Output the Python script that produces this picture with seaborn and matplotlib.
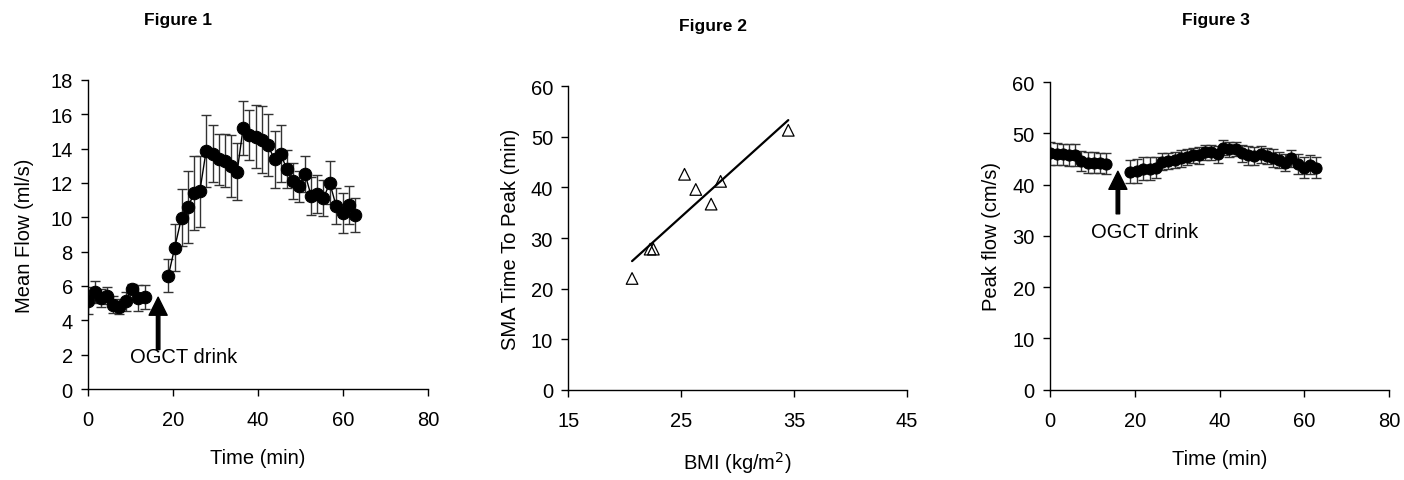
import numpy as np
import pandas as pd
import matplotlib
matplotlib.use('Agg')
import matplotlib.pyplot as plt
import seaborn as sns

sns.set_style('ticks')
plt.rcParams['font.family'] = ['Liberation Sans', 'DejaVu Sans']
plt.rcParams['text.color'] = 'black'
plt.rcParams['axes.labelcolor'] = 'black'

# time points (min), before and after the drink
t_pre = [0.1, 1.6, 3.0, 4.5, 5.9, 7.4, 8.9, 10.3, 11.8, 13.3]
t_post = [18.9, 20.4, 22.0, 23.5, 25.0, 26.3, 27.8, 29.4, 30.8, 32.2, 33.6,
          35.1, 36.5, 38.0, 39.6, 40.9, 42.3, 43.9, 45.3, 46.8, 48.2, 49.7,
          51.1, 52.5, 54.0, 55.4, 56.9, 58.4, 60.0, 61.4, 62.8]

# Figure 1 - mean flow (ml/s)
flow_pre = [5.15, 5.64, 5.3, 5.44, 4.9, 4.8, 5.1, 5.83, 5.3, 5.35]
flow_pre_err = [0.8, 0.65, 0.55, 0.5, 0.5, 0.45, 0.55, 0.3, 0.75, 0.7]
flow_post = [6.6, 8.23, 9.97, 10.6, 11.4, 11.5, 13.87, 13.7, 13.37, 13.3, 13.0,
             12.65, 15.2, 14.8, 14.7, 14.5, 14.2, 13.37, 13.7, 12.8, 12.1, 11.8,
             12.5, 11.25, 11.37, 11.1, 12.0, 10.65, 10.25, 10.7, 10.15]
flow_post_err = [0.95, 1.35, 1.65, 2.1, 2.15, 2.05, 2.1, 1.65, 1.5, 1.55, 1.8,
                 1.65, 1.55, 1.45, 1.85, 1.95, 1.8, 1.65, 1.65, 1.1, 1.05, 0.9,
                 1.05, 1.1, 1.1, 1.05, 1.25, 1.05, 1.15, 1.1, 1.0]

# Figure 2 - BMI vs SMA time to peak
bmi = [20.65, 22.25, 22.54, 25.3, 26.3, 27.66, 28.5, 34.5]
time_to_peak = [22.0, 27.8, 27.8, 42.6, 39.6, 36.7, 41.2, 51.3]

# Figure 3 - peak flow (cm/s)
peak_pre = [46.1, 46.0, 45.9, 45.8, 45.8, 44.6, 44.3, 44.3, 44.2, 44.1]
peak_pre_err = [2.3, 2.1, 2.1, 2.1, 2.1, 2.0, 2.1, 2.1, 2.0, 2.0]
peak_post = [42.5, 42.6, 43.1, 43.1, 43.3, 44.5, 44.6, 44.8, 45.1, 45.4, 45.7,
             45.7, 46.3, 46.3, 45.9, 47.2, 46.9, 47.0, 46.1, 45.7, 45.6, 45.9,
             45.6, 45.2, 44.8, 44.3, 45.1, 44.0, 43.3, 43.9, 43.3]
peak_post_err = [2.2, 2.3, 2.2, 2.2, 2.0, 1.6, 1.6, 1.5, 1.6, 1.5, 1.5,
                 1.6, 1.5, 1.5, 1.6, 1.4, 1.5, 1.4, 1.6, 1.8, 1.7, 1.6,
                 1.6, 1.7, 1.6, 1.6, 1.7, 2.0, 2.0, 1.9, 2.1]

FS = 14.5


def time_frame(pre, post, pre_err, post_err):
    return pd.DataFrame({
        'time': t_pre + t_post,
        'value': pre + post,
        'err': pre_err + post_err,
        'segment': ['pre'] * len(pre) + ['post'] * len(post),
    })


def style_axis(ax):
    sns.despine(ax=ax)
    for s in ['left', 'bottom']:
        ax.spines[s].set_linewidth(1.0)
        ax.spines[s].set_color('black')
    ax.tick_params(axis='both', length=5, width=1, labelsize=FS,
                   colors='black', direction='out')
    ax.tick_params(axis='x', pad=10)
    ax.tick_params(axis='y', pad=6)


fig = plt.figure(figsize=(14.04, 4.81), dpi=100)
ax1 = fig.add_axes([0.0627, 0.189, 0.2421, 0.643])
ax2 = fig.add_axes([0.4048, 0.1877, 0.2410, 0.6308])
ax3 = fig.add_axes([0.7479, 0.1877, 0.2416, 0.6397])

# --- Figure 1
df1 = time_frame(flow_pre, flow_post, flow_pre_err, flow_post_err)
ax1.errorbar(df1['time'], df1['value'], yerr=df1['err'], fmt='none',
             ecolor='#333333', elinewidth=1, capsize=3.5, capthick=1, zorder=1)
sns.lineplot(data=df1, x='time', y='value', units='segment', estimator=None,
             color='black', lw=1, marker='o', markersize=9,
             markeredgecolor='black', ax=ax1, zorder=3)
ax1.annotate('', xy=(16.5, 5.35), xytext=(16.5, 2.3),
             arrowprops=dict(facecolor='black', edgecolor='black', width=2.5,
                             headwidth=13, headlength=13, shrink=0))
ax1.text(22.5, 1.9, 'OGCT drink', fontsize=FS, ha='center', va='center')
ax1.set_xlim(0, 80)
ax1.set_ylim(0, 18)
ax1.set_xticks(range(0, 81, 20))
ax1.set_yticks(range(0, 19, 2))
ax1.set_xlabel('Time (min)', fontsize=FS, labelpad=14)
ax1.set_ylabel('Mean Flow (ml/s)', fontsize=FS, labelpad=12)
style_axis(ax1)

# --- Figure 2
df2 = pd.DataFrame({'bmi': bmi, 'ttp': time_to_peak})
sns.scatterplot(data=df2, x='bmi', y='ttp', marker='^', s=70,
                facecolors='none', edgecolor='black', linewidth=0.9, ax=ax2)
sns.regplot(data=df2, x='bmi', y='ttp', scatter=False, ci=None,
            line_kws=dict(color='black', lw=1.6), ax=ax2)
ax2.set_xlim(15, 45)
ax2.set_ylim(0, 60)
ax2.set_xticks([15, 25, 35, 45])
ax2.set_yticks(range(0, 61, 10))
ax2.set_xlabel('BMI (kg/m$^2$)', fontsize=FS, labelpad=14)
ax2.set_ylabel('SMA Time To Peak (min)', fontsize=FS, labelpad=8)
style_axis(ax2)

# --- Figure 3
df3 = time_frame(peak_pre, peak_post, peak_pre_err, peak_post_err)
ax3.errorbar(df3['time'], df3['value'], yerr=df3['err'], fmt='none',
             ecolor='#333333', elinewidth=1, capsize=3.5, capthick=1, zorder=1)
sns.lineplot(data=df3, x='time', y='value', units='segment', estimator=None,
             color='black', lw=1, marker='o', markersize=8,
             markeredgecolor='black', ax=ax3, zorder=3)
ax3.annotate('', xy=(16.0, 42.6), xytext=(16.0, 34.3),
             arrowprops=dict(facecolor='black', edgecolor='black', width=2.5,
                             headwidth=13, headlength=13, shrink=0))
ax3.text(22.4, 30.8, 'OGCT drink', fontsize=FS, ha='center', va='center')
ax3.set_xlim(0, 80)
ax3.set_ylim(0, 60)
ax3.set_xticks(range(0, 81, 20))
ax3.set_yticks(range(0, 61, 10))
ax3.set_xlabel('Time (min)', fontsize=FS, labelpad=14)
ax3.set_ylabel('Peak flow (cm/s)', fontsize=FS, labelpad=8)
style_axis(ax3)

fig.text(178 / 1404, 1 - 20 / 481, 'Figure 1', fontsize=12.5, fontweight='bold',
         ha='center', va='center')
fig.text(713 / 1404, 1 - 27 / 481, 'Figure 2', fontsize=12.5, fontweight='bold',
         ha='center', va='center')
fig.text(1216 / 1404, 1 - 21 / 481, 'Figure 3', fontsize=12.5, fontweight='bold',
         ha='center', va='center')

fig.savefig('out.png', dpi=100)
